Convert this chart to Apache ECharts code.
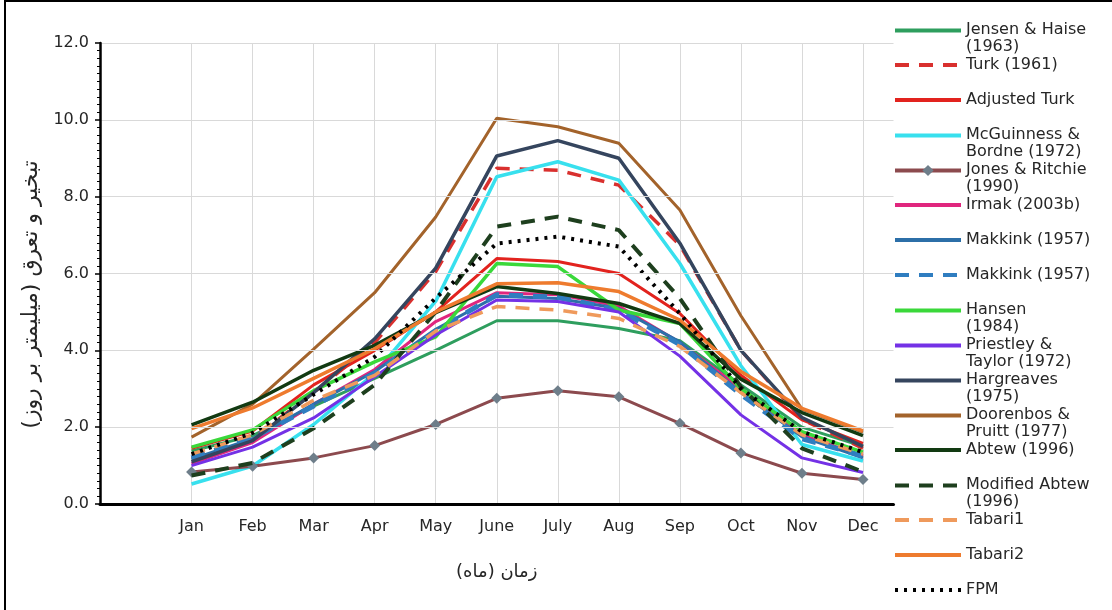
<!DOCTYPE html>
<html>
<head>
<meta charset="utf-8">
<script src="https://cdn.jsdelivr.net/npm/echarts@6/dist/echarts.min.js"></script>
<style>
  html, body { margin: 0; padding: 0; background: #fff; }
  #chart { width: 1112px; height: 610px; }
</style>
</head>
<body>
<div id="chart"></div>
<script>
// ---------- data ----------
const months = ['Jan','Feb','Mar','Apr','May','June','July','Aug','Sep','Oct','Nov','Dec'];
const yTicks = [0, 2, 4, 6, 8, 10, 12];

const jensenHaise   = [1.38, 1.78, 2.55, 3.27, 4.00, 4.77, 4.77, 4.57, 4.25, 3.10, 2.00, 1.50];
const turk          = [1.20, 1.70, 2.90, 4.20, 6.05, 8.74, 8.69, 8.30, 6.74, 4.00, 2.20, 1.45];
const adjustedTurk  = [1.45, 1.90, 3.10, 4.00, 5.00, 6.39, 6.31, 6.00, 4.96, 3.35, 2.19, 1.58];
const mcGuinness    = [0.52, 0.99, 2.07, 3.40, 5.28, 8.52, 8.91, 8.43, 6.26, 3.60, 1.55, 1.12];
const jonesRitchie  = [0.83, 0.98, 1.20, 1.52, 2.07, 2.75, 2.95, 2.79, 2.10, 1.33, 0.80, 0.64];
const irmak         = [1.05, 1.60, 2.60, 3.50, 4.75, 5.50, 5.45, 5.15, 4.20, 3.00, 1.80, 1.25];
const makkink       = [1.17, 1.70, 2.60, 3.45, 4.55, 5.41, 5.35, 5.09, 4.22, 2.90, 1.75, 1.20];
const makkinkDashed = [1.20, 1.72, 2.55, 3.40, 4.50, 5.45, 5.38, 5.05, 4.15, 2.85, 1.70, 1.25];
const hansen        = [1.48, 1.93, 2.95, 3.70, 4.35, 6.26, 6.18, 5.05, 4.70, 3.00, 1.88, 1.35];
const priestley     = [1.00, 1.48, 2.24, 3.31, 4.40, 5.31, 5.27, 5.00, 3.85, 2.32, 1.20, 0.82];
const hargreaves    = [1.10, 1.65, 2.90, 4.30, 6.14, 9.06, 9.46, 9.00, 6.79, 4.00, 2.25, 1.50];
const doorenbos     = [1.74, 2.60, 4.03, 5.50, 7.47, 10.04, 9.82, 9.39, 7.65, 4.90, 2.47, 1.87];
const abtew         = [2.06, 2.65, 3.48, 4.13, 4.98, 5.66, 5.48, 5.22, 4.70, 3.25, 2.38, 1.78];
const modAbtew      = [0.74, 1.07, 1.97, 3.10, 5.00, 7.22, 7.48, 7.13, 5.35, 3.05, 1.45, 0.84];
const tabari1       = [1.30, 1.80, 2.70, 3.35, 4.50, 5.14, 5.05, 4.83, 4.10, 2.90, 1.80, 1.30];
const tabari2       = [1.96, 2.50, 3.27, 4.04, 5.00, 5.73, 5.76, 5.53, 4.79, 3.45, 2.49, 1.90];
const fpm           = [1.30, 1.85, 2.85, 3.83, 5.36, 6.78, 6.96, 6.70, 4.96, 3.00, 1.88, 1.35];

// series names (internal, unique) and legend labels (displayed)
const seriesNames = [
  'Jensen & Haise (1963)', 'Turk (1961)', 'Adjusted Turk', 'McGuinness & Bordne (1972)',
  'Jones & Ritchie (1990)', 'Irmak (2003b)', 'Makkink (1957)', 'Makkink (1957) dashed',
  'Hansen (1984)', 'Priestley & Taylor (1972)', 'Hargreaves (1975)', 'Doorenbos & Pruitt (1977)',
  'Abtew (1996)', 'Modified Abtew (1996)', 'Tabari1', 'Tabari2', 'FPM'
];
const legendLabels = [
  'Jensen & Haise\n(1963)', 'Turk (1961)', 'Adjusted Turk', 'McGuinness &\nBordne (1972)',
  'Jones & Ritchie\n(1990)', 'Irmak (2003b)', 'Makkink (1957)', 'Makkink (1957)',
  'Hansen\n(1984)', 'Priestley &\nTaylor (1972)', 'Hargreaves\n(1975)', 'Doorenbos &\nPruitt (1977)',
  'Abtew (1996)', 'Modified Abtew\n(1996)', 'Tabari1', 'Tabari2', 'FPM'
];
const seriesValues = [
  jensenHaise, turk, adjustedTurk, mcGuinness, jonesRitchie, irmak, makkink, makkinkDashed,
  hansen, priestley, hargreaves, doorenbos, abtew, modAbtew, tabari1, tabari2, fpm
];

const yAxisTitle = '\u200Fتبخیر و تعرق (میلیمتر بر روز)\u200F';
const xAxisTitle = '\u200Fزمان (ماه)\u200F';

// ---------- styles ----------
const styles = [
  { color: '#2E9E5E', width: 3 },
  { color: '#D9302E', width: 3.5, type: [14, 10] },
  { color: '#E2231E', width: 3 },
  { color: '#38E0EE', width: 3.5 },
  { color: '#8C4A4E', width: 3, symbol: 'diamond', symbolColor: '#6E7E8A' },
  { color: '#E0267E', width: 3 },
  { color: '#2C6FA8', width: 3 },
  { color: '#2F7DC0', width: 5, type: [14, 10] },
  { color: '#3AD83A', width: 3.5 },
  { color: '#7431E6', width: 3 },
  { color: '#35455E', width: 3.5 },
  { color: '#A3632B', width: 3 },
  { color: '#123A12', width: 3.5 },
  { color: '#1E3F1E', width: 4, type: [14, 10] },
  { color: '#EF9A5C', width: 3.5, type: [14, 10] },
  { color: '#EE7B2E', width: 3.5 },
  { color: '#000000', width: 4, type: [3, 6] }
];

const FONT = 'DejaVu Sans';
const plotLeft = 100, plotRight = 893.5, plotTop = 43, plotBottom = 504;

const series = seriesNames.map((name, i) => {
  const st = styles[i];
  return {
    name: name,
    type: 'line',
    data: months.map((m, k) => [m, seriesValues[i][k]]),
    symbol: st.symbol || 'none',
    symbolSize: 11,
    showSymbol: !!st.symbol,
    itemStyle: { color: st.symbolColor || st.color },
    lineStyle: { color: st.color, width: st.width, type: st.type || 'solid' },
    z: 3 + i,
    silent: true
  };
});

const legends = seriesNames.map((name, i) => ({
  data: [name],
  orient: 'vertical',
  left: 893,
  top: 21 + i * 35,
  padding: 0,
  itemGap: 0,
  itemWidth: 66,
  itemHeight: 14,
  selectedMode: false,
  lineStyle: { width: 4 },
  itemStyle: styles[i].symbol ? { opacity: 1 } : { opacity: 0 },
  formatter: function () {
    const lbl = legendLabels[i];
    if (lbl.indexOf('\n') >= 0) {
      const parts = lbl.split('\n');
      return '{a|' + parts[0] + '}\n{b|' + parts[1] + '}';
    }
    return lbl;
  },
  textStyle: {
    fontFamily: FONT,
    fontSize: 16,
    color: '#262626',
    lineHeight: 18,
    rich: {
      a: { lineHeight: 18, fontFamily: FONT, fontSize: 16, color: '#262626' },
      b: { lineHeight: 1, verticalAlign: 'top', fontFamily: FONT, fontSize: 16, color: '#262626' }
    }
  }
}));

const chart = echarts.init(document.getElementById('chart'), null, { renderer: 'canvas' });
chart.setOption({
  animation: false,
  backgroundColor: '#ffffff',
  grid: { left: plotLeft, right: 1112 - plotRight, top: plotTop, bottom: 610 - plotBottom, containLabel: false },
  legend: legends,
  xAxis: [
    {
      type: 'category',
      data: [''].concat(months),
      boundaryGap: true,
      axisLine: { show: true, lineStyle: { color: '#000', width: 3 } },
      axisTick: { show: false },
      axisLabel: { fontFamily: FONT, fontSize: 16, color: '#262626', margin: 15, interval: 0 },
      splitLine: { show: false },
      name: xAxisTitle,
      nameLocation: 'middle',
      nameGap: 59,
      nameTextStyle: { fontFamily: FONT, fontSize: 18, color: '#262626' },
      z: 20
    },
    {
      type: 'category',
      position: 'top',
      data: new Array(27).fill(''),
      boundaryGap: false,
      axisLine: { show: false },
      axisTick: { show: false },
      axisLabel: { show: false },
      splitLine: {
        show: true,
        interval: function (idx) { return idx % 2 === 1 && idx >= 3; },
        lineStyle: { color: '#D9D9D9', width: 1 }
      }
    }
  ],
  yAxis: {
    type: 'value',
    min: yTicks[0],
    max: yTicks[yTicks.length - 1],
    interval: 2,
    axisLine: { show: true, lineStyle: { color: '#000', width: 2.5 } },
    axisTick: { show: true, length: 5, lineStyle: { color: '#000', width: 1.5 } },
    minorTick: { show: true, splitNumber: 10, length: 3, lineStyle: { color: '#000', width: 1 } },
    axisLabel: {
      fontFamily: FONT, fontSize: 16, color: '#262626', margin: 11,
      formatter: v => v.toFixed(1)
    },
    splitLine: { show: true, lineStyle: { color: '#D9D9D9', width: 1 } },
    name: yAxisTitle,
    nameLocation: 'middle',
    nameGap: 55,
    nameTextStyle: { fontFamily: FONT, fontSize: 22, color: '#262626', padding: [0, 42, 0, 0] },
    z: 20
  },
  graphic: [
    {
      type: 'rect',
      silent: true,
      shape: { x: 5, y: 1, width: 1200, height: 700 },
      style: { fill: 'none', stroke: '#000', lineWidth: 2 }
    }
  ],
  series: series
});
</script>
</body>
</html>
